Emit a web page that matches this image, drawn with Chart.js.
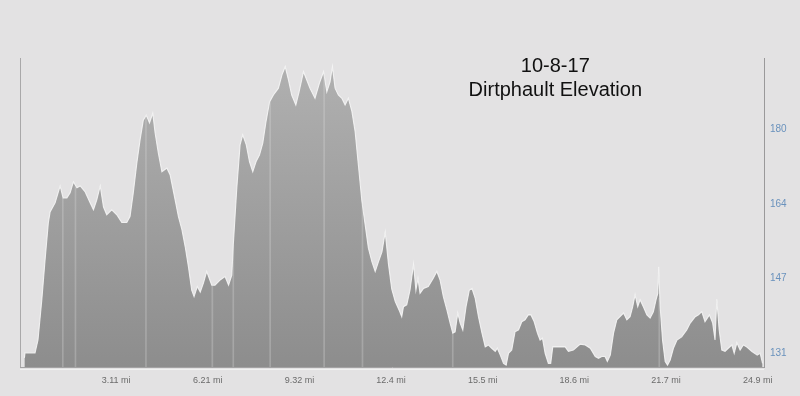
<!DOCTYPE html>
<html>
<head>
<meta charset="utf-8">
<script src="https://cdn.jsdelivr.net/npm/chart.js@4"></script>
<style>
  html, body { margin: 0; padding: 0; background: #e3e2e3; }
  #wrap { width: 800px; height: 396px; position: relative; }
</style>
</head>
<body>
<div id="wrap"><canvas id="c" width="800" height="396"></canvas></div>
<script>
// Distance along route (miles)
const distanceMi = [
  0, 0.02, 0.36, 0.46, 0.59, 0.70, 0.81, 0.87, 1.04, 1.21, 1.31, 1.44, 1.55, 1.66, 1.78, 1.89,
  2.06, 2.23, 2.34, 2.45, 2.57, 2.68, 2.79, 2.96, 3.13, 3.30, 3.47, 3.58, 3.69, 3.81, 3.92,
  4.03, 4.13, 4.24, 4.35, 4.43, 4.54, 4.66, 4.83, 4.94, 5.11, 5.22, 5.34, 5.45, 5.56, 5.67,
  5.75, 5.86, 5.96, 6.07, 6.18, 6.35, 6.46, 6.63, 6.80, 6.92, 7.03, 7.08, 7.20, 7.31, 7.40,
  7.52, 7.63, 7.74, 7.85, 7.97, 8.08, 8.19, 8.31, 8.44, 8.61, 8.73, 8.84, 8.95, 9.06, 9.20,
  9.31, 9.46, 9.57, 9.68, 9.85, 10.00, 10.14, 10.25, 10.36, 10.44, 10.53, 10.64, 10.76, 10.87,
  10.98, 11.10, 11.21, 11.32, 11.44, 11.55, 11.66, 11.78, 11.89, 12.00, 12.12, 12.23, 12.34,
  12.45, 12.57, 12.71, 12.79, 12.85, 12.96, 13.07, 13.19, 13.27, 13.34, 13.41, 13.53, 13.69,
  13.86, 13.98, 14.09, 14.20, 14.32, 14.43, 14.52, 14.60, 14.69, 14.77, 14.86, 14.97, 15.08,
  15.17, 15.28, 15.39, 15.51, 15.62, 15.73, 15.84, 15.96, 16.03, 16.13, 16.24, 16.33, 16.41,
  16.52, 16.63, 16.75, 16.86, 16.97, 17.08, 17.17, 17.28, 17.39, 17.48, 17.56, 17.65, 17.76,
  17.84, 17.91, 18.05, 18.22, 18.33, 18.44, 18.61, 18.84, 19.01, 19.18, 19.35, 19.46, 19.57,
  19.68, 19.76, 19.86, 19.97, 20.08, 20.19, 20.31, 20.42, 20.53, 20.62, 20.70, 20.79, 20.87,
  20.98, 21.10, 21.21, 21.32, 21.41, 21.47, 21.50, 21.55, 21.63, 21.72, 21.80, 21.89, 22.00,
  22.12, 22.28, 22.45, 22.57, 22.74, 22.85, 22.96, 23.07, 23.22, 23.33, 23.41, 23.47, 23.55,
  23.64, 23.75, 23.86, 23.98, 24.06, 24.15, 24.26, 24.37, 24.48, 24.66, 24.84, 24.94, 25.02
];
// Elevation values (axis units)
const elevation = [
  130.0, 131.1, 131.1, 133.9, 142.7, 151.4, 159.5, 161.9, 163.9, 167.6, 165.0, 165.0, 166.1, 168.5, 167.2, 167.6,
  166.3, 163.9, 162.4, 164.5, 167.6, 163.0, 161.3, 162.4, 161.3, 159.6, 159.6, 160.9, 166.1, 172.6, 177.7,
  182.0, 183.1, 181.4, 183.5, 179.2, 174.8, 170.7, 171.5, 170.0, 164.5, 160.9, 158.0, 154.3, 149.9, 144.8,
  143.4, 145.6, 144.4, 146.4, 148.9, 145.9, 145.9, 147.0, 147.8, 145.9, 148.1, 154.7, 167.2, 176.6, 178.8,
  176.6, 172.9, 170.7, 172.9, 174.4, 177.0, 181.7, 186.0, 187.5, 189.0, 191.9, 193.7, 190.8, 187.5, 185.3,
  188.2, 192.6, 190.8, 189.0, 186.8, 190.1, 192.6, 188.2, 190.4, 193.7, 189.0, 187.5, 186.8, 185.3,
  186.8, 183.9, 179.5, 172.2, 164.2, 159.1, 154.0, 151.0, 148.9, 151.0, 153.2, 157.5, 150.5,
  145.1, 142.3, 140.3, 139.0, 141.2, 141.6, 144.8, 150.5, 144.8, 147.4, 144.1, 145.2, 145.6,
  147.4, 148.9, 147.0, 143.4, 140.5, 137.6, 135.4, 135.7, 139.8, 137.6, 136.1, 141.2, 144.8,
  145.2, 143.0, 139.0, 135.4, 132.4, 132.8, 132.1, 131.4, 132.1, 130.6, 128.8, 128.4, 131.0,
  131.7, 135.7, 136.1, 137.9, 138.3, 139.4, 139.4, 137.9, 135.4, 133.9, 134.3, 131.0, 128.8,
  128.8, 132.4, 132.4, 132.4, 132.4, 131.4, 131.7, 133.0, 132.8, 132.1, 130.3, 129.9, 130.3,
  130.3, 129.2, 130.6, 135.4, 138.3, 139.0, 139.8, 138.3, 139.0, 141.2, 143.8, 141.2, 142.7,
  141.2, 139.4, 138.7, 140.1, 142.7, 144.1, 149.9, 141.2, 133.9, 129.2, 128.4, 129.5, 132.1,
  133.9, 134.6, 136.1, 137.6, 139.0, 139.4, 140.1, 137.9, 139.4, 137.6, 133.9, 142.8, 136.1,
  131.7, 131.4, 132.1, 132.8, 131.0, 133.3, 131.7, 132.8, 132.4, 131.4, 130.6, 131.0, 128.8
];
// Lap markers (thin vertical lines)
const lapMi = [1.30, 1.73, 4.12, 6.37, 7.08, 8.33, 10.16, 11.46, 14.52, 21.52];
const lapElev = [165.0, 167.5, 183.0, 145.9, 154.7, 186.0, 192.0, 163.5, 135.4, 143.0];

// Axis ticks
const xTickValues = [3.107, 6.214, 9.321, 12.427, 15.534, 18.641, 21.748, 24.855];
const xTickLabels = ['3.11 mi', '6.21 mi', '9.32 mi', '12.4 mi', '15.5 mi', '18.6 mi', '21.7 mi', '24.9 mi'];
const yTickValues = [131, 147.33, 163.67, 180];
const yTickLabels = ['131', '147', '164', '180'];
const titleLines = ['10-8-17', 'Dirtphault Elevation'];

const profile = distanceMi.map((d, i) => ({ x: d, y: elevation[i] }));
const laps = lapMi.map((d, i) => ({ x: d, y: lapElev[i] }));

const framePlugin = {
  id: 'frame',
  beforeDraw(chart) {
    const { ctx, chartArea: a } = chart;
    ctx.save();
    ctx.fillStyle = '#e3e2e3';
    ctx.fillRect(0, 0, chart.width, chart.height);
    ctx.strokeStyle = '#a9a8a9';
    ctx.lineWidth = 1;
    ctx.beginPath();
    ctx.moveTo(a.left + 0.5, a.top);
    ctx.lineTo(a.left + 0.5, a.bottom + 1);
    ctx.stroke();
    ctx.strokeStyle = '#f2f2f2';
    ctx.beginPath();
    ctx.moveTo(a.left, a.bottom + 2.5);
    ctx.lineTo(a.right, a.bottom + 2.5);
    ctx.stroke();
    ctx.restore();
  },
  afterDraw(chart) {
    const { ctx, chartArea: a } = chart;
    ctx.save();
    ctx.fillStyle = '#111';
    ctx.font = '20px "Liberation Sans", Arial, sans-serif';
    ctx.textAlign = 'center';
    ctx.textBaseline = 'alphabetic';
    const cx = a.left + (a.right - a.left) * 0.7195;
    ctx.fillText(titleLines[0], cx, a.top + 14);
    ctx.fillText(titleLines[1], cx, a.top + 38);
    ctx.restore();
  }
};

const canvas = document.getElementById('c');
const g = canvas.getContext('2d');
const grad = g.createLinearGradient(0, 58, 0, 367);
grad.addColorStop(0, '#b1b1b1');
grad.addColorStop(1, '#8d8d8d');

new Chart(canvas, {
  type: 'line',
  data: {
    datasets: [
      {
        type: 'bar',
        data: laps,
        backgroundColor: 'rgba(225,225,225,0.28)',
        barThickness: 1,
        borderWidth: 0,
        order: 0
      },
      {
        data: profile,
        fill: 'start',
        backgroundColor: grad,
        borderColor: 'rgba(248,248,248,0.85)',
        borderWidth: 1.1,
        pointRadius: 0,
        tension: 0,
        order: 1
      }
    ]
  },
  plugins: [framePlugin],
  options: {
    responsive: false,
    animation: false,
    events: [],
    layout: { padding: { left: 20, top: 58, right: 0, bottom: 0 } },
    plugins: { legend: { display: false }, tooltip: { enabled: false }, title: { display: false } },
    scales: {
      x: {
        type: 'linear',
        min: -0.15,
        max: 25.07,
        offset: false,
        grid: { display: false, drawTicks: false },
        border: { display: true, color: '#a3a2a3', width: 1 },
        afterBuildTicks(scale) { scale.ticks = xTickValues.map(v => ({ value: v })); },
        afterFit(scale) { scale.height = 29; },
        ticks: {
          padding: 8,
          maxRotation: 0,
          autoSkip: false,
          color: '#6b6b6b',
          font: { family: '"Liberation Sans", Arial, sans-serif', size: 9 },
          callback(v, i) { return xTickLabels[i]; }
        }
      },
      y: {
        type: 'linear',
        position: 'right',
        min: 128,
        max: 195.6,
        grid: { display: false, drawTicks: false },
        border: { display: true, color: '#9a999a', width: 1 },
        afterBuildTicks(scale) { scale.ticks = yTickValues.map(v => ({ value: v })); },
        afterFit(scale) { scale.width = 36; },
        ticks: {
          padding: 6,
          color: '#6a92bd',
          font: { family: '"Liberation Sans", Arial, sans-serif', size: 10 },
          callback(v, i) { return yTickLabels[i]; }
        }
      }
    }
  }
});
</script>
</body>
</html>
